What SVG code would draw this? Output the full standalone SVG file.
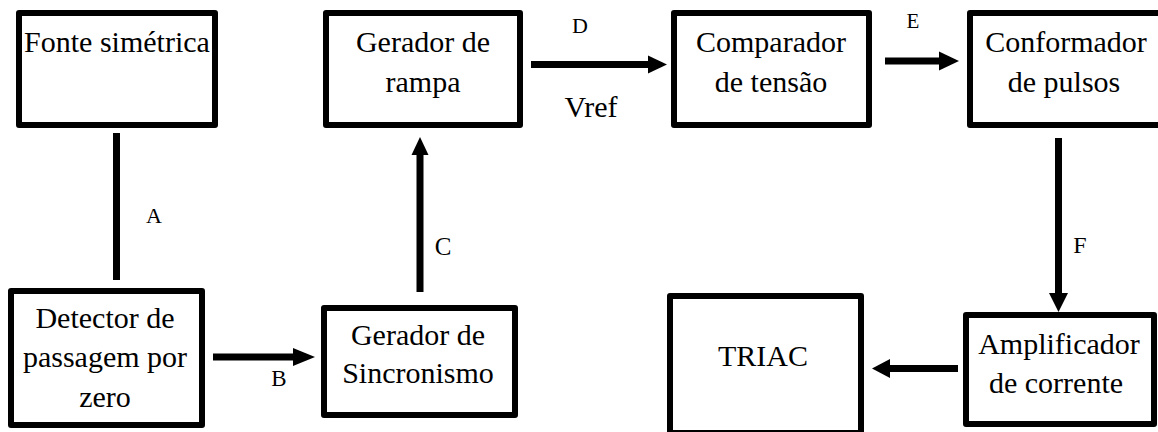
<svg xmlns="http://www.w3.org/2000/svg" width="1158" height="432" viewBox="0 0 1158 432" font-family="'Liberation Serif', serif">
<style>
.box{fill:#fff;stroke:#000;stroke-width:6;stroke-linejoin:round}
.t{font-size:30px;fill:#000;text-anchor:middle}
.lbl{fill:#000;text-anchor:middle}
.ln{stroke:#000;stroke-width:7;fill:none}
.hd{fill:#000}
</style>
<rect width="1158" height="432" fill="#fff"/>
<g id="fonte">
<rect class="box" x="19" y="13" width="196" height="112"/>
<text class="t" x="117" y="52">Fonte simétrica</text>
</g>
<g id="detector">
<rect class="box" x="11" y="291" width="191" height="134"/>
<text class="t" x="105" y="328">Detector de</text>
<text class="t" x="105" y="367">passagem por</text>
<text class="t" x="105" y="407">zero</text>
</g>
<g id="sincronismo">
<rect class="box" x="324" y="308" width="191" height="107"/>
<text class="t" x="418" y="345">Gerador de</text>
<text class="t" x="418" y="383">Sincronismo</text>
</g>
<g id="rampa">
<rect class="box" x="326" y="13" width="194" height="112"/>
<text class="t" x="423" y="52">Gerador de</text>
<text class="t" x="423" y="92">rampa</text>
</g>
<g id="comparador">
<rect class="box" x="674" y="13" width="195" height="112"/>
<text class="t" x="771" y="52">Comparador</text>
<text class="t" x="771" y="92">de tensão</text>
</g>
<g id="conformador">
<rect class="box" x="970" y="13" width="200" height="112"/>
<text class="t" x="1066" y="52">Conformador</text>
<text class="t" x="1064" y="92">de pulsos</text>
</g>
<g id="amplificador">
<rect class="box" x="966" y="315" width="188" height="109"/>
<text class="t" x="1059" y="354">Amplificador</text>
<text class="t" x="1056" y="393">de corrente</text>
</g>
<g id="triac">
<rect class="box" x="670" y="296" width="191" height="137"/>
<text class="t" x="763" y="366">TRIAC</text>
</g>
<g id="connectors">
<line class="ln" x1="116.5" y1="133" x2="116.5" y2="280"/>
<line class="ln" x1="213" y1="357" x2="295" y2="357"/>
<polygon class="hd" points="293,348 315,357 293,366"/>
<line class="ln" x1="420" y1="292" x2="420" y2="153"/>
<polygon class="hd" points="411.5,155 420,137 428.5,155"/>
<line class="ln" x1="531" y1="64.5" x2="650" y2="64.5"/>
<polygon class="hd" points="648,55.5 667,64.5 648,73.5"/>
<line class="ln" x1="885" y1="61" x2="941" y2="61"/>
<polygon class="hd" points="939,51.5 959,61 939,70.5"/>
<line class="ln" x1="1058.5" y1="138" x2="1058.5" y2="295"/>
<polygon class="hd" points="1049,293 1068,293 1058.5,312"/>
<line class="ln" x1="958" y1="368.5" x2="888" y2="368.5"/>
<polygon class="hd" points="890,359 872,368.5 890,378"/>
</g>
<g id="labels">
<text class="lbl" x="154" y="223" font-size="22">A</text>
<text class="lbl" x="279" y="386" font-size="23">B</text>
<text class="lbl" x="443" y="255" font-size="25">C</text>
<text class="lbl" x="580" y="33" font-size="22">D</text>
<text class="lbl" x="913" y="28" font-size="21">E</text>
<text class="lbl" x="1080" y="253" font-size="24">F</text>
<text class="t" x="591" y="117">Vref</text>
</g>
</svg>
